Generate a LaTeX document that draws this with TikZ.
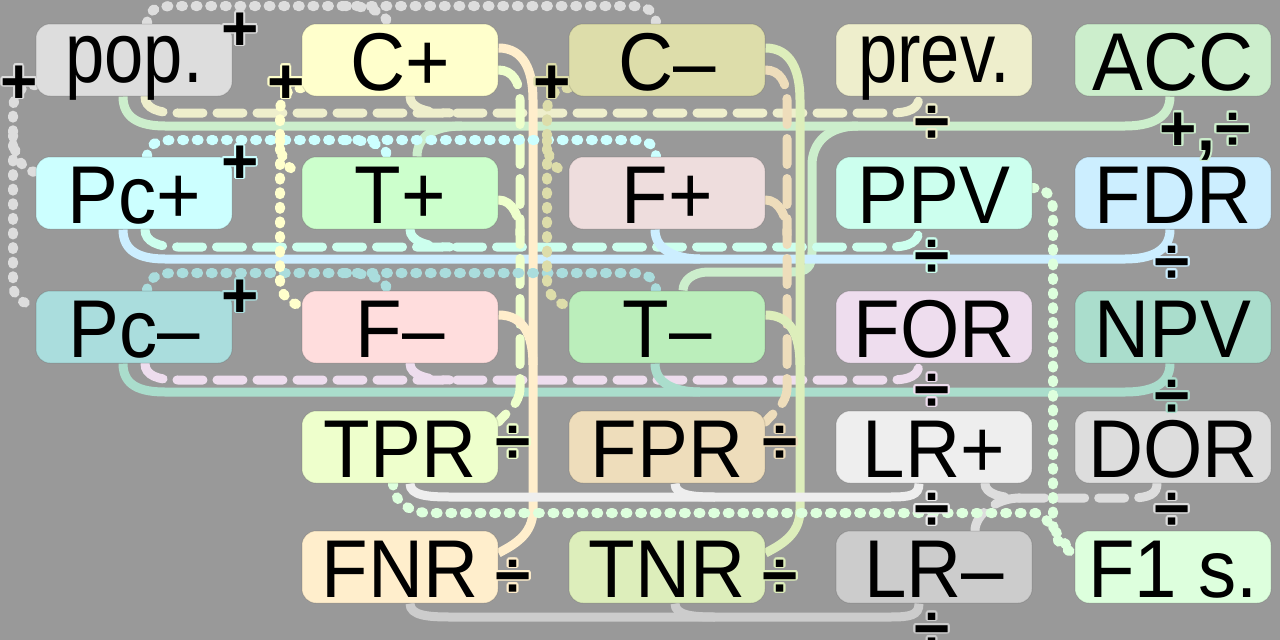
\documentclass[tikz,border=0pt]{standalone}
\usepackage{fontspec}
\setmainfont{Liberation Sans}
\newfontfamily\boxfont[FakeStretch=0.93]{Liberation Sans}
\newfontfamily\lowfont[FakeStretch=0.82]{Liberation Sans}
\usepackage{contour}
\contourlength{1.8pt}
\definecolor{bgc}{HTML}{999999}
\definecolor{cpop}{HTML}{DDDDDD}
\definecolor{ccp}{HTML}{FFFFCC}
\definecolor{ccm}{HTML}{DDDDAA}
\definecolor{cprev}{HTML}{EEEECC}
\definecolor{cacc}{HTML}{CCEECC}
\definecolor{cpcp}{HTML}{CCFFFF}
\definecolor{ctp}{HTML}{CCFFCC}
\definecolor{cfp}{HTML}{EEDDDD}
\definecolor{cppv}{HTML}{CCFFEE}
\definecolor{cfdr}{HTML}{CCEEFF}
\definecolor{cpcm}{HTML}{AADDDD}
\definecolor{cfm}{HTML}{FFDDDD}
\definecolor{ctm}{HTML}{BBEEBB}
\definecolor{cfor}{HTML}{EEDDEE}
\definecolor{cnpv}{HTML}{AADDCC}
\definecolor{ctpr}{HTML}{EEFFCC}
\definecolor{cfpr}{HTML}{EEDDBB}
\definecolor{clrp}{HTML}{EEEEEE}
\definecolor{cdor}{HTML}{DDDDDD}
\definecolor{cfnr}{HTML}{FFEECC}
\definecolor{ctnr}{HTML}{DDEEBB}
\definecolor{clrm}{HTML}{CCCCCC}
\definecolor{cfone}{HTML}{DDFFDD}
\pgfdeclarelayer{back}
\pgfdeclarelayer{bg}
\pgfsetlayers{back,bg,main}
\begin{document}
\begin{tikzpicture}[x=1pt,y=-1pt,
  box/.style={rectangle, rounded corners=14pt, minimum width=196pt, minimum height=72pt,
    inner sep=0pt, draw=black, draw opacity=0.12, line width=1pt,
    font=\boxfont\fontsize{82}{82}\selectfont, text height=60pt, text depth=0pt},
  lowbox/.style={box, font=\lowfont\fontsize{86}{86}\selectfont, text height=50pt, text depth=6pt},
  op/.style={font=\fontsize{64}{64}\selectfont\bfseries, inner sep=0pt, anchor=base},
  dotl/.style={line width=10pt, line cap=round, dash pattern=on 2pt off 12.6pt},
  dashl/.style={line width=9pt, line cap=round, dash pattern=on 26pt off 14pt},
  soll/.style={line width=9pt}]
\begin{pgfonlayer}{back}
\fill[bgc] (0,0) rectangle (1280,640);
\end{pgfonlayer}
\useasboundingbox (0,0) rectangle (1280,640);

% boxes
\node[lowbox, fill=cpop] (pop) at (134,60) {pop.};
\node[box, fill=ccp] (cp) at (400,60) {C+};
\node[box, fill=ccm] (cm) at (667,60) {C–};
\node[lowbox, fill=cprev] (prev) at (934,60) {prev.};
\node[box, fill=cacc] (acc) at (1173,60) {ACC};
\node[box, fill=cpcp] (pcp) at (134,193) {Pc+};
\node[box, fill=ctp] (tp) at (400,193) {T+};
\node[box, fill=cfp] (fp) at (667,193) {F+};
\node[box, fill=cppv] (ppv) at (934,193) {PPV};
\node[box, fill=cfdr] (fdr) at (1173,193) {FDR};
\node[box, fill=cpcm] (pcm) at (134,327) {Pc–};
\node[box, fill=cfm] (fm) at (400,327) {F–};
\node[box, fill=ctm] (tm) at (667,327) {T–};
\node[box, fill=cfor] (for) at (934,327) {FOR};
\node[box, fill=cnpv] (npv) at (1173,327) {NPV};
\node[box, fill=ctpr] (tpr) at (400,447) {TPR};
\node[box, fill=cfpr] (fpr) at (667,447) {FPR};
\node[box, fill=clrp] (lrp) at (934,447) {LR+};
\node[box, fill=cdor] (dor) at (1173,447) {DOR};
\node[box, fill=cfnr] (fnr) at (400,567) {FNR};
\node[box, fill=ctnr] (tnr) at (667,567) {TNR};
\node[box, fill=clrm] (lrm) at (934,567) {LR–};
\node[box, fill=cfone] (fone) at (1173,567) {F1 s.};

\begin{pgfonlayer}{bg}
% ---- row ratios
\draw[dashl, cprev] ([xshift=11pt]pop.south) .. controls +(0,12) and +(-20,0) .. (178,113) -- (890,113) .. controls +(20,0) and +(0,12) .. ([xshift=-15pt]prev.south);
\draw[dashl, cprev] ([xshift=10pt]cp.south) .. controls +(0,12) and +(-22,0) .. (450,113);
\draw[soll, cacc] ([xshift=-11pt]pop.south) .. controls +(0,22) and +(-25,0) .. (165,126) -- (1125,126) .. controls +(25,0) and +(0,22) .. ([xshift=-3pt]acc.south);
\draw[soll, cacc] (462,126) .. controls +(-28,0) and +(0,-20) .. ([xshift=17pt]tp.north);
\draw[soll, cacc] (858,126) .. controls +(-30,0) and +(0,-22) .. (812,165) -- (812,252) .. controls +(0,15) and +(15,0) .. (792,272) -- (708,272) .. controls +(-15,0) and +(0,-10) .. ([xshift=16pt]tm.north);

\draw[dashl, cppv] ([xshift=11pt]pcp.south) .. controls +(0,12) and +(-20,0) .. (178,247) -- (890,247) .. controls +(20,0) and +(0,12) .. ([xshift=-15pt]ppv.south);
\draw[dashl, cppv] ([xshift=10pt]tp.south) .. controls +(0,12) and +(-22,0) .. (450,247);
\draw[soll, cfdr] ([xshift=-11pt]pcp.south) .. controls +(0,22) and +(-25,0) .. (165,259) -- (1125,259) .. controls +(25,0) and +(0,22) .. ([xshift=-3pt]fdr.south);
\draw[soll, cfdr] ([xshift=-12pt]fp.south) .. controls +(0,20) and +(-25,0) .. (700,259);

\draw[dashl, cfor] ([xshift=11pt]pcm.south) .. controls +(0,12) and +(-20,0) .. (178,380) -- (890,380) .. controls +(20,0) and +(0,12) .. ([xshift=-15pt]for.south);
\draw[dashl, cfor] ([xshift=10pt]fm.south) .. controls +(0,12) and +(-22,0) .. (450,380);
\draw[soll, cnpv] ([xshift=-11pt]pcm.south) .. controls +(0,22) and +(-25,0) .. (165,392) -- (1125,392) .. controls +(25,0) and +(0,22) .. ([xshift=-3pt]npv.south);
\draw[soll, cnpv] ([xshift=-12pt]tm.south) .. controls +(0,20) and +(-25,0) .. (700,392);

% ---- column ratios
\draw[dashl, ctpr] ([yshift=-10pt]cp.east) .. controls +(14,0) and +(0,-18) .. (520,100) -- (520,388) .. controls +(0,16) and +(8,-10) .. ([yshift=25pt]tpr.east);
\draw[dashl, ctpr] ([yshift=-7pt]tp.east) .. controls +(14,0) and +(0,-18) .. (520,235);
\draw[soll, cfnr] ([yshift=12pt]cp.east) .. controls +(25,0) and +(0,-30) .. (533,100) -- (533,510) .. controls +(0,25) and +(15,-8) .. ([yshift=14pt]fnr.east);
\draw[soll, cfnr] ([yshift=12pt]fm.east) .. controls +(25,0) and +(0,-30) .. (533,365);

\draw[dashl, cfpr] ([yshift=-10pt]cm.east) .. controls +(14,0) and +(0,-18) .. (787,100) -- (787,388) .. controls +(0,16) and +(8,-10) .. ([yshift=25pt]fpr.east);
\draw[dashl, cfpr] ([yshift=-7pt]fp.east) .. controls +(14,0) and +(0,-18) .. (787,235);
\draw[soll, ctnr] ([yshift=12pt]cm.east) .. controls +(25,0) and +(0,-30) .. (800,100) -- (800,510) .. controls +(0,25) and +(15,-8) .. ([yshift=14pt]tnr.east);
\draw[soll, ctnr] ([yshift=12pt]tm.east) .. controls +(25,0) and +(0,-30) .. (800,365);

% ---- likelihood ratios
\draw[soll, clrp] ([xshift=10pt]tpr.south) .. controls +(0,12) and +(-22,0) .. (450,497) -- (890,497) .. controls +(20,0) and +(0,12) .. ([xshift=-15pt]lrp.south);
\draw[soll, clrp] ([xshift=8pt]fpr.south) .. controls +(0,12) and +(-22,0) .. (715,497);
\draw[soll, clrm] ([xshift=10pt]fnr.south) .. controls +(0,12) and +(-22,0) .. (450,617) -- (890,617) .. controls +(20,0) and +(0,12) .. ([xshift=-15pt]lrm.south);
\draw[soll, clrm] ([xshift=8pt]tnr.south) .. controls +(0,12) and +(-22,0) .. (715,617);
\draw[dashl, cdor] ([xshift=-16pt]dor.south) .. controls +(0,10) and +(20,0) .. (1130,498) -- (1020,498) .. controls +(-20,0) and +(0,10) .. ([xshift=51pt]lrp.south);
\draw[dashl, cdor] (1020,498) .. controls +(-25,0) and +(0,-15) .. ([xshift=41pt]lrm.north);

% ---- sums (dotted)
\draw[dotl, cpop] ([xshift=13pt]pop.north) .. controls +(0,-14) and +(-18,0) .. (175,6) -- (630,6) .. controls +(18,0) and +(0,-12) .. ([xshift=-11pt]cm.north);
\draw[dotl, cpop] (345,6) .. controls +(22,0) and +(0,-12) .. ([xshift=-13pt]cp.north);
\draw[dotl, cpcp] ([xshift=13pt]pcp.north) .. controls +(0,-12) and +(-18,0) .. (175,140) -- (630,140) .. controls +(18,0) and +(0,-12) .. ([xshift=-11pt]fp.north);
\draw[dotl, cpcp] (345,140) .. controls +(22,0) and +(0,-12) .. ([xshift=-13pt]tp.north);
\draw[dotl, cpcm] ([xshift=13pt]pcm.north) .. controls +(0,-12) and +(-18,0) .. (175,273) -- (630,273) .. controls +(18,0) and +(0,-12) .. ([xshift=-11pt]tm.north);
\draw[dotl, cpcm] (345,273) .. controls +(22,0) and +(0,-12) .. ([xshift=-13pt]fm.north);

\draw[dotl, cpop] ([yshift=-25pt]pop.west) .. controls +(-15,0) and +(0,-15) .. (13,110) -- (13,285) .. controls +(0,12) and +(-12,0) .. ([yshift=22pt]pcm.west);
\draw[dotl, cpop] (13,135) .. controls +(0,20) and +(-12,0) .. ([yshift=21pt]pcp.west);
\draw[dotl, ccp] ([yshift=-28pt]cp.west) .. controls +(-14,0) and +(0,-15) .. (280,112) -- (280,280) .. controls +(0,14) and +(-12,0) .. ([yshift=22pt]fm.west);
\draw[dotl, ccp] (280,140) .. controls +(0,20) and +(-12,0) .. ([yshift=21pt]tp.west);
\draw[dotl, ccm] ([yshift=-28pt]cm.west) .. controls +(-14,0) and +(0,-15) .. (547,112) -- (547,280) .. controls +(0,14) and +(-12,0) .. ([yshift=22pt]tm.west);
\draw[dotl, ccm] (547,140) .. controls +(0,20) and +(-12,0) .. ([yshift=21pt]fp.west);

% ---- F1 score
\draw[dotl, cfone] ([yshift=5pt]ppv.east) .. controls +(15,0) and +(0,-15) .. (1053,212) -- (1053,522) .. controls +(0,15) and +(-12,0) .. ([yshift=15pt]fone.west);
\draw[dotl, cfone] ([xshift=-7pt]tpr.south) .. controls +(0,18) and +(-20,0) .. (430,513) -- (1035,513) .. controls +(12,0) and +(-12,-6) .. ([yshift=15pt]fone.west);
\end{pgfonlayer}

% ---- operators
\node[op] (opa) at (240,50) {\contour{cpop}{+}};
\node[op] (opb) at (19,103) {\contour{cpop}{+}};
\node[op] (opc) at (286,103) {\contour{ccp}{+}};
\node[op] (opd) at (552,103) {\contour{ccm}{+}};
\node[op] (ope) at (932,143) {\contour{cprev}{÷}};
\node[op] (opf) at (1205,150) {\contour{cacc}{+,÷}};
\node[op] (opg) at (240,183) {\contour{cpcp}{+}};
\node[op] (oph) at (932,277) {\contour{cppv}{÷}};
\node[op] (opi) at (1172,283) {\contour{cfdr}{÷}};
\node[op] (opj) at (240,317) {\contour{cpcm}{+}};
\node[op] (opk) at (932,411) {\contour{cfor}{÷}};
\node[op] (opl) at (1172,417) {\contour{cnpv}{÷}};
\node[op] (opm) at (513,463) {\contour{ctpr}{÷}};
\node[op] (opn) at (780,463) {\contour{cfpr}{÷}};
\node[op] (opo) at (932,530) {\contour{clrp}{÷}};
\node[op] (opp) at (1172,530) {\contour{cdor}{÷}};
\node[op] (opq) at (513,597) {\contour{cfnr}{÷}};
\node[op] (opr) at (780,597) {\contour{ctnr}{÷}};
\node[op] (ops) at (932,650) {\contour{clrm}{÷}};
\end{tikzpicture}
\end{document}
